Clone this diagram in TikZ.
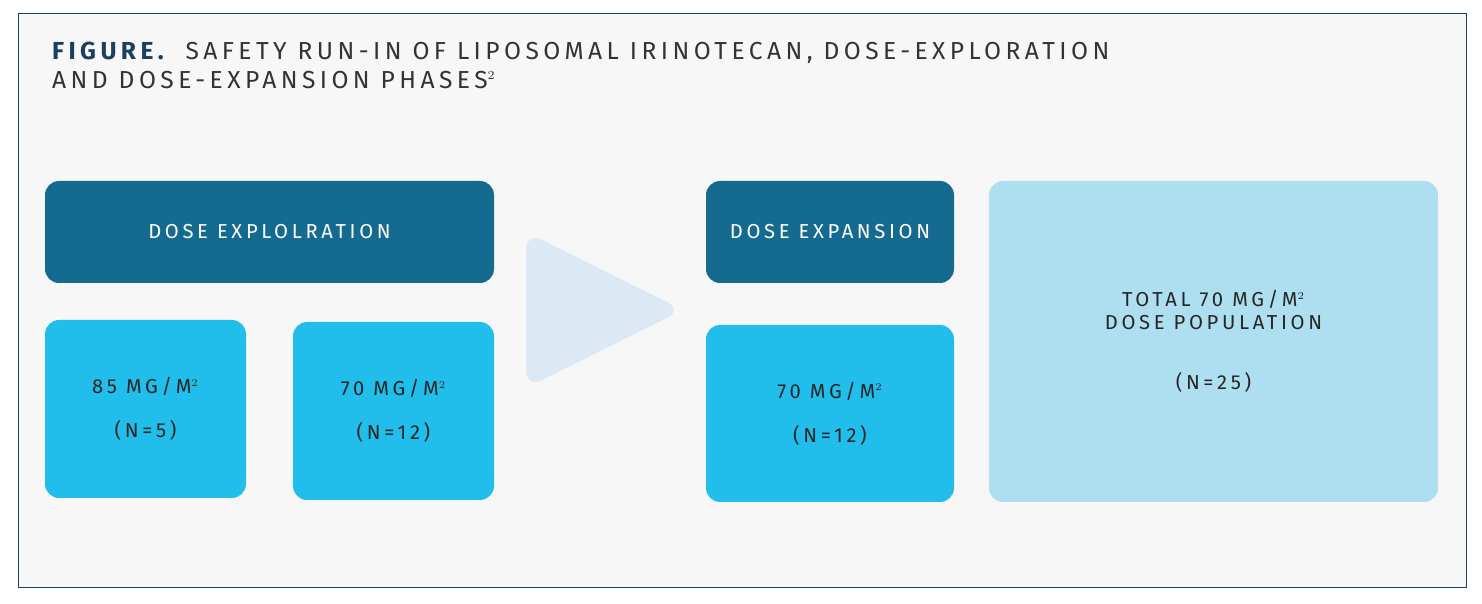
\documentclass[tikz,border=0pt]{standalone}
\usepackage{fontspec}
\setmainfont{Fira Sans}[LetterSpace=18]
\usetikzlibrary{positioning}
\definecolor{navy}{HTML}{1B3F5E}
\definecolor{teal}{HTML}{156A8F}
\definecolor{cyanbox}{HTML}{22BEEB}
\definecolor{paleblue}{HTML}{ADDFF0}
\definecolor{arrowblue}{HTML}{DCE8F3}
\definecolor{panel}{HTML}{F7F7F7}
\begin{document}
\begin{tikzpicture}[x=0.02cm,y=-0.02cm]

		\tikzstyle{phase} = [rectangle, fill=teal, text=white, rounded corners=8, font=\fontsize{11.5}{14}\selectfont]
		
		\tikzstyle{dose} = [rectangle, fill=cyanbox, text=black!85, rounded corners=8, align=center, font=\fontsize{11.5}{25}\selectfont]
		
		\tikzstyle{total} = [rectangle, fill=paleblue, text=black!85, rounded corners=8, align=center, font=\fontsize{11.5}{13}\selectfont]
		
		\useasboundingbox (0,0) rectangle (1482,604);
		\fill[white] (0,0) rectangle (1482,604);
		\draw[navy, fill=panel] (18,13) rectangle (1466,587);
		
		\node[anchor=base west, font=\fontsize{14}{17}\selectfont, text=black!80] at (46,60) (title1) {\textbf{\color{navy}FIGURE.}\ \ SAFETY RUN-IN OF LIPOSOMAL IRINOTECAN, DOSE-EXPLORATION};
		\node[anchor=base west, font=\fontsize{14}{17}\selectfont, text=black!80] at (46,89) (title2) {AND DOSE-EXPANSION PHASES$^{\scriptscriptstyle 2}$};
		
		\node[phase, minimum width=449*0.02cm, minimum height=102*0.02cm] at (269.5,232) (exploration) {DOSE EXPLOLRATION};
		\node[phase, minimum width=248*0.02cm, minimum height=102*0.02cm] at (830,232) (expansion) {DOSE EXPANSION};
		
		\node[dose, minimum width=201*0.02cm, minimum height=178*0.02cm] at (145.5,409) (dose85) {85 MG/M$^{\scriptscriptstyle 2}$\\(N=5)};
		\node[dose, minimum width=201*0.02cm, minimum height=178*0.02cm] at (393.5,411) (dose70a) {70 MG/M$^{\scriptscriptstyle 2}$\\(N=12)};
		\node[dose, minimum width=248*0.02cm, minimum height=177*0.02cm] at (830,413.5) (dose70b) {70 MG/M$^{\scriptscriptstyle 2}$\\(N=12)};
		
		\node[total, minimum width=449*0.02cm, minimum height=321*0.02cm] at (1213.5,341.5) (totalpop) {TOTAL 70 MG/M$^{\scriptscriptstyle 2}$\\DOSE POPULATION\\[3.5ex](N=25)};
		
		% phase arrow
		\fill[arrowblue, rounded corners=10] (526,232) -- (683,310) -- (526,388) -- cycle;
	\end{tikzpicture}
\end{document}
